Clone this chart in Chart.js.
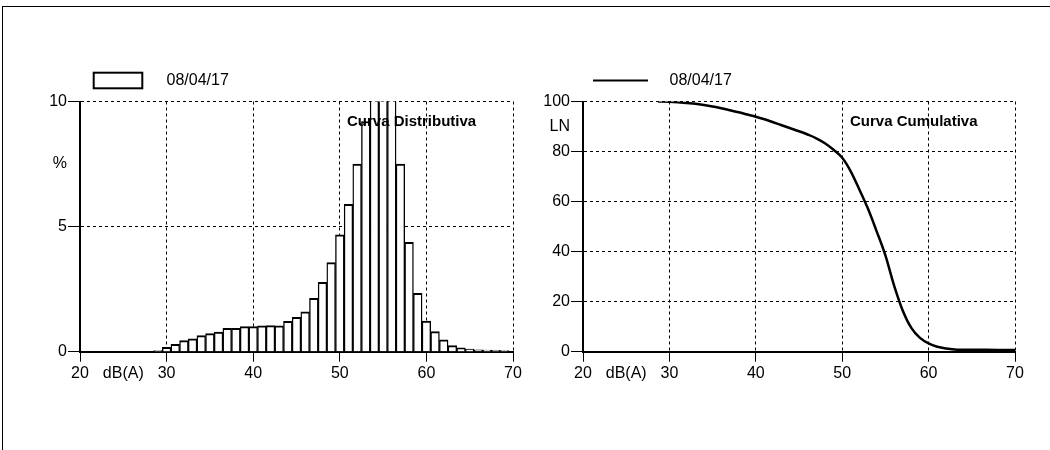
<!DOCTYPE html>
<html lang="it">
<head>
<meta charset="UTF-8" />
<title>Curva Distributiva / Curva Cumulativa</title>
<script src="https://cdn.jsdelivr.net/npm/chart.js"></script>
<style>
  html, body { margin: 0; background: #fff; }
  body { width: 1050px; height: 450px; position: relative; overflow: hidden; }
  #frame { position: absolute; left: 2px; top: 6px; width: 1100px; height: 500px;
           border-top: 1px solid #000; border-left: 1px solid #000; }
  #distChart { position: absolute; left: 0; top: 0; }
  #cumChart { position: absolute; left: 525px; top: 0; }
</style>
</head>
<body>
<div id="frame"></div>
<canvas id="distChart" width="525" height="450"></canvas>
<canvas id="cumChart" width="525" height="450"></canvas>
<script>
// values
const legendLabel = '08/04/17';
const distTitle = 'Curva Distributiva';
const cumTitle = 'Curva Cumulativa';

// distribution: one bar per dB(A), percent of time
const distDb = [29, 30, 31, 32, 33, 34, 35, 36, 37, 38, 39, 40, 41, 42, 43, 44, 45, 46, 47, 48, 49,
                50, 51, 52, 53, 54, 55, 56, 57, 58, 59, 60, 61, 62, 63, 64, 65, 66, 67, 68, 69];
const distPct = [0.04, 0.17, 0.29, 0.44, 0.51, 0.64, 0.72, 0.78, 0.93, 0.93, 1.0, 1.0, 1.03, 1.04, 1.03, 1.21, 1.37, 1.59, 2.13, 2.77, 3.56,
                 4.67, 5.89, 7.5, 9.2, 10.6, 10.9, 10.5, 7.5, 4.37, 2.33, 1.22, 0.8, 0.47, 0.24, 0.15, 0.1, 0.07, 0.06, 0.05, 0.04];

// cumulative curve LN (%)
const cumDb = [28.7, 30, 31, 32, 33, 34, 35, 36, 37, 38, 39, 40, 41, 42, 43, 44, 45, 46, 47, 48, 49,
               50, 51, 52, 53, 54, 55, 56, 57, 58, 59, 60, 61, 62, 63, 64, 66, 68, 70];
const cumLn = [100, 99.9, 99.7, 99.4, 99.1, 98.6, 98.0, 97.3, 96.5, 95.7, 94.8, 93.9, 92.9, 91.7, 90.5, 89.3, 88.1, 86.8, 85.3, 83.3, 80.7,
               77.5, 72, 64.7, 57, 48, 38.5, 26.5, 16.5, 9.5, 5.5, 3.3, 2.0, 1.3, 0.9, 0.8, 0.75, 0.7, 0.7];

// odd axis labels that sit in the tick rows
const xUnitLabel = 'dB(A)';
const distUnitLabel = '%';
const cumUnitLabel = 'LN';

Chart.defaults.font.family = "'Liberation Sans', Arial, sans-serif";
Chart.defaults.color = '#000';

const FONT = "'Liberation Sans', Arial, sans-serif";
const hidden = 'rgba(0,0,0,0)';

// legend symbol + text and the inner title, drawn in the canvas
const legendAndTitle = {
  id: 'legendAndTitle',
  afterDatasetsDraw(chart, args, opts) {
    const { ctx, chartArea: a } = chart;
    ctx.save();
    ctx.strokeStyle = '#000';
    ctx.lineWidth = 2;
    if (opts.symbol === 'box') {
      ctx.strokeRect(a.left + 13.7, a.top - 28.8, 48.6, 15.6);
    } else {
      ctx.beginPath();
      ctx.moveTo(a.left + 10, a.top - 21);
      ctx.lineTo(a.left + 65, a.top - 21);
      ctx.stroke();
    }
    ctx.fillStyle = '#000';
    ctx.textBaseline = 'alphabetic';
    ctx.font = '16px ' + FONT;
    ctx.fillText(chart.data.datasets[0].label, a.left + 86.5, a.top - 16.5);
    ctx.font = 'bold 15px ' + FONT;
    ctx.fillText(opts.title, a.left + 267, a.top + 24);
    ctx.restore();
  }
};

function xAxis() {
  return {
    type: 'linear', min: 20, max: 70,
    offset: false,
    afterFit(s) { s.height = 30; },
    grid: {
      offset: false,
      color: c => (c.tick && c.tick.value % 10 === 0) ? '#000' : hidden,
      tickLength: 10, lineWidth: 1
    },
    border: { color: '#000', width: 2, dash: [3, 3] },
    ticks: {
      stepSize: 5, autoSkip: false, maxRotation: 0, padding: 2, color: '#000',
      font: { size: 16 },
      callback: v => v === 25 ? xUnitLabel : (v % 10 === 0 ? v : '')
    }
  };
}

function yAxis(max, step, major, unitAt, unitLabel, width) {
  return {
    min: 0, max: max,
    afterFit(s) { s.width = width; },
    grid: {
      color: c => (c.tick && c.tick.value % major === 0) ? '#000' : hidden,
      tickLength: 12, lineWidth: 1
    },
    border: { color: '#000', width: 2, dash: [3, 3] },
    ticks: {
      stepSize: step, autoSkip: false, padding: 1, color: '#000',
      font: { size: 16 },
      callback: v => v === unitAt ? unitLabel : (v % major === 0 ? v : '')
    }
  };
}

new Chart(document.getElementById('distChart'), {
  type: 'bar',
  data: {
    datasets: [{
      label: legendLabel,
      data: distDb.map((d, i) => ({ x: d, y: distPct[i] })),
      backgroundColor: '#fff',
      borderColor: '#000',
      borderWidth: { top: 2, left: 1.4, right: 1.4, bottom: 0 },
      barPercentage: 1,
      categoryPercentage: 1,
      clip: 0
    }]
  },
  options: {
    responsive: false,
    animation: false,
    layout: { padding: { left: 0, right: 12, top: 101.5, bottom: 68.3 } },
    plugins: {
      legend: { display: false },
      tooltip: { enabled: false },
      legendAndTitle: { symbol: 'box', title: distTitle }
    },
    scales: {
      x: xAxis(),
      y: yAxis(10, 2.5, 5, 7.5, distUnitLabel, 80)
    }
  },
  plugins: [legendAndTitle]
});

new Chart(document.getElementById('cumChart'), {
  type: 'line',
  data: {
    datasets: [{
      label: legendLabel,
      data: cumDb.map((d, i) => ({ x: d, y: cumLn[i] })),
      borderColor: '#000',
      borderWidth: 2.5,
      pointRadius: 0,
      fill: false,
      cubicInterpolationMode: 'monotone'
    }]
  },
  options: {
    responsive: false,
    animation: false,
    layout: { padding: { left: 0, right: 35, top: 101.5, bottom: 68.3 } },
    plugins: {
      legend: { display: false },
      tooltip: { enabled: false },
      legendAndTitle: { symbol: 'line', title: cumTitle }
    },
    scales: {
      x: xAxis(),
      y: yAxis(100, 10, 20, 90, cumUnitLabel, 58)
    }
  },
  plugins: [legendAndTitle]
});
</script>
</body>
</html>
